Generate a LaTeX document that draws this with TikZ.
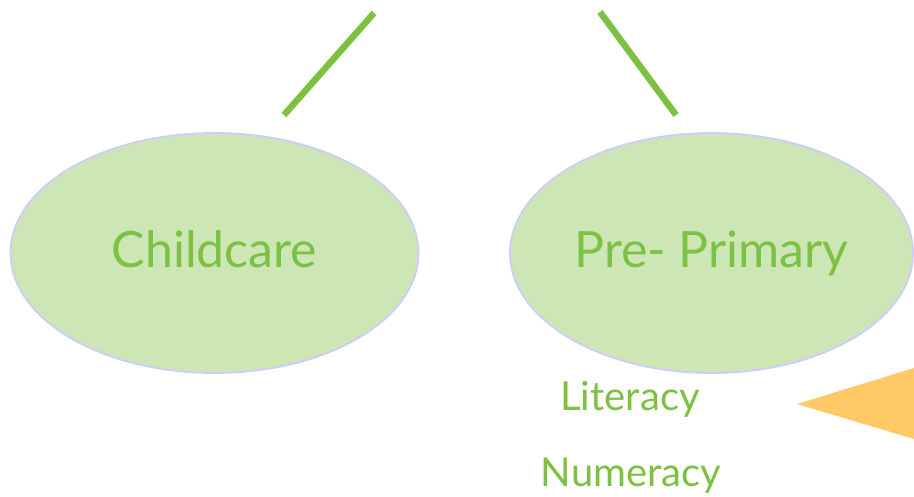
\documentclass[tikz,border=0pt]{standalone}
\usepackage{fontspec}
\setmainfont{Lato}
\usetikzlibrary{shapes,positioning}
\definecolor{leafgreen}{HTML}{7DC142}
\definecolor{palegreen}{HTML}{CCE7B5}
\definecolor{lavender}{HTML}{CCCCFF}
\definecolor{sunorange}{HTML}{FFCA66}

\begin{document}
\begin{tikzpicture}[
    x=1pt, y=1pt,
    stage/.style={ellipse, draw=lavender, fill=palegreen, line width=1.8pt, minimum width=408pt, minimum height=240pt, inner sep=0pt, text height=40pt, text depth=10pt, text=leafgreen, font=\fontsize{50}{56}\selectfont},
    skill/.style={text=leafgreen, font=\fontsize{40}{46}\selectfont, inner sep=0pt},
    branch/.style={leafgreen, line width=6.5pt}
]
\useasboundingbox (0,0) rectangle (914,497);
\clip (0,0) rectangle (914,497);

% Stages
\node[stage] (childcare) at (214.5,244) {Childcare};
\node[stage, minimum width=403pt] (preprimary) at (711.5,244) {Pre- Primary};

% Branches
\coordinate (left_top) at (374,484);
\coordinate (left_end) at (284,382);
\coordinate (right_top) at (600,485);
\coordinate (right_end) at (676,382);
\draw[branch] (left_top) -- (left_end);
\draw[branch] (right_top) -- (right_end);

% Skills
\node[skill, anchor=base] (literacy) at (630,86) {Literacy};
\node[skill, anchor=base] (numeracy) at (631,10) {Numeracy};

% Pointer
\coordinate (tip) at (797,93);
\fill[sunorange] (tip) -- (914,129) -- (960,145) -- (960,41) -- (914,58) -- cycle;

\end{tikzpicture}
\end{document}
